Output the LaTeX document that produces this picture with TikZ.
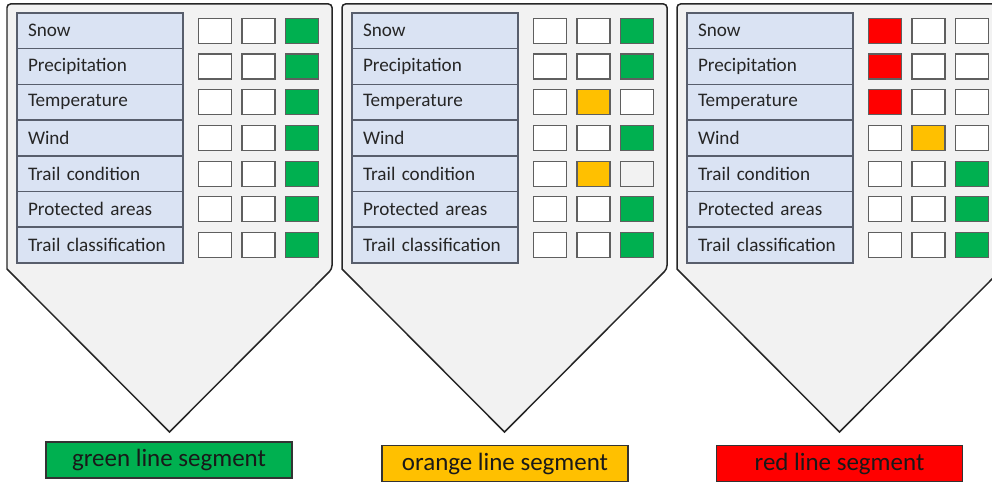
\documentclass[tikz,border=0pt]{standalone}
\usepackage{fontspec}
\setmainfont{Carlito}
\usepackage{xcolor}
\definecolor{panelgray}{RGB}{242, 242, 242}
\definecolor{paramblue}{RGB}{218, 227, 243}
\definecolor{paramline}{RGB}{88, 94, 108}
\definecolor{boxline}{RGB}{95, 95, 95}
\definecolor{seggreen}{RGB}{0, 176, 80}
\definecolor{segorange}{RGB}{255, 192, 0}
\definecolor{segred}{RGB}{255, 0, 0}
\usepackage{tikz}

\begin{document}
\begin{tikzpicture}[
      panel/.style={draw=black!85, line width=0.85pt, fill=panelgray, line join=miter},
      param/.style={rectangle, draw=paramline, line width=0.8pt, fill=paramblue, text=black!85, font=\fontsize{10.9}{13}\selectfont, minimum height=0.714cm, text width=2.88cm, inner xsep=0.22cm, inner ysep=0pt, align=left},
      tick/.style={rectangle, draw=boxline, line width=0.7pt, fill=#1, minimum width=0.66cm, minimum height=0.50cm, inner sep=0pt},
      seglabel/.style={rectangle, draw=black!80, line width=0.6pt, fill=#1, text=black!90, font=\fontsize{14.2}{17}\selectfont, minimum width=4.92cm, minimum height=0.72cm, inner sep=0pt}
  ]
    \useasboundingbox (0,0) rectangle (19.84,9.64);
    \clip (0,0) rectangle (19.84,9.64);

    % Panels with parameter rows
    \foreach \p/\dx in {a/0, b/6.7, c/13.4} {
      \draw[panel] ({\dx+0.14},4.26) [rounded corners=2pt] -- ({\dx+0.14},9.56) -- ({\dx+6.64},9.56) -- ({\dx+6.64},4.26) [sharp corners] -- ({\dx+3.39},1.00) -- cycle;
      \foreach \i/\lab in {1/Snow, 2/Precipitation, 3/Temperature, 4/Wind, 5/Trail condition, 6/Protected areas, 7/Trail classification}
        \node[param] (\p\i) at ({\dx+2.0}, {9.737-0.714*\i}) {\lab};
    }

    % Panel a
    \foreach \i/\u/\v/\w in {1/white/white/seggreen, 2/white/white/seggreen, 3/white/white/seggreen, 4/white/white/seggreen, 5/white/white/seggreen, 6/white/white/seggreen, 7/white/white/seggreen} {
      \node[tick=\u] (a\i-1) at (4.30, {9.737-0.714*\i}) {};
      \node[tick=\v] (a\i-2) at (5.17, {9.737-0.714*\i}) {};
      \node[tick=\w] (a\i-3) at (6.04, {9.737-0.714*\i}) {};
    }

    % Panel b
    \foreach \i/\u/\v/\w in {1/white/white/seggreen, 2/white/white/seggreen, 3/white/segorange/white, 4/white/white/seggreen, 5/white/segorange/panelgray, 6/white/white/seggreen, 7/white/white/seggreen} {
      \node[tick=\u] (b\i-1) at (11.00, {9.737-0.714*\i}) {};
      \node[tick=\v] (b\i-2) at (11.87, {9.737-0.714*\i}) {};
      \node[tick=\w] (b\i-3) at (12.74, {9.737-0.714*\i}) {};
    }

    % Panel c
    \foreach \i/\u/\v/\w in {1/segred/white/white, 2/segred/white/white, 3/segred/white/white, 4/white/segorange/white, 5/white/white/seggreen, 6/white/white/seggreen, 7/white/white/seggreen} {
      \node[tick=\u] (c\i-1) at (17.70, {9.737-0.714*\i}) {};
      \node[tick=\v] (c\i-2) at (18.57, {9.737-0.714*\i}) {};
      \node[tick=\w] (c\i-3) at (19.44, {9.737-0.714*\i}) {};
    }

    % Segment labels
    \node[seglabel=seggreen] (gseg) at (3.38, 0.44) {green line segment};
    \node[seglabel=segorange] (oseg) at (10.10, 0.37) {orange line segment};
    \node[seglabel=segred] (rseg) at (16.79, 0.37) {red line segment};
  \end{tikzpicture}
\end{document}
